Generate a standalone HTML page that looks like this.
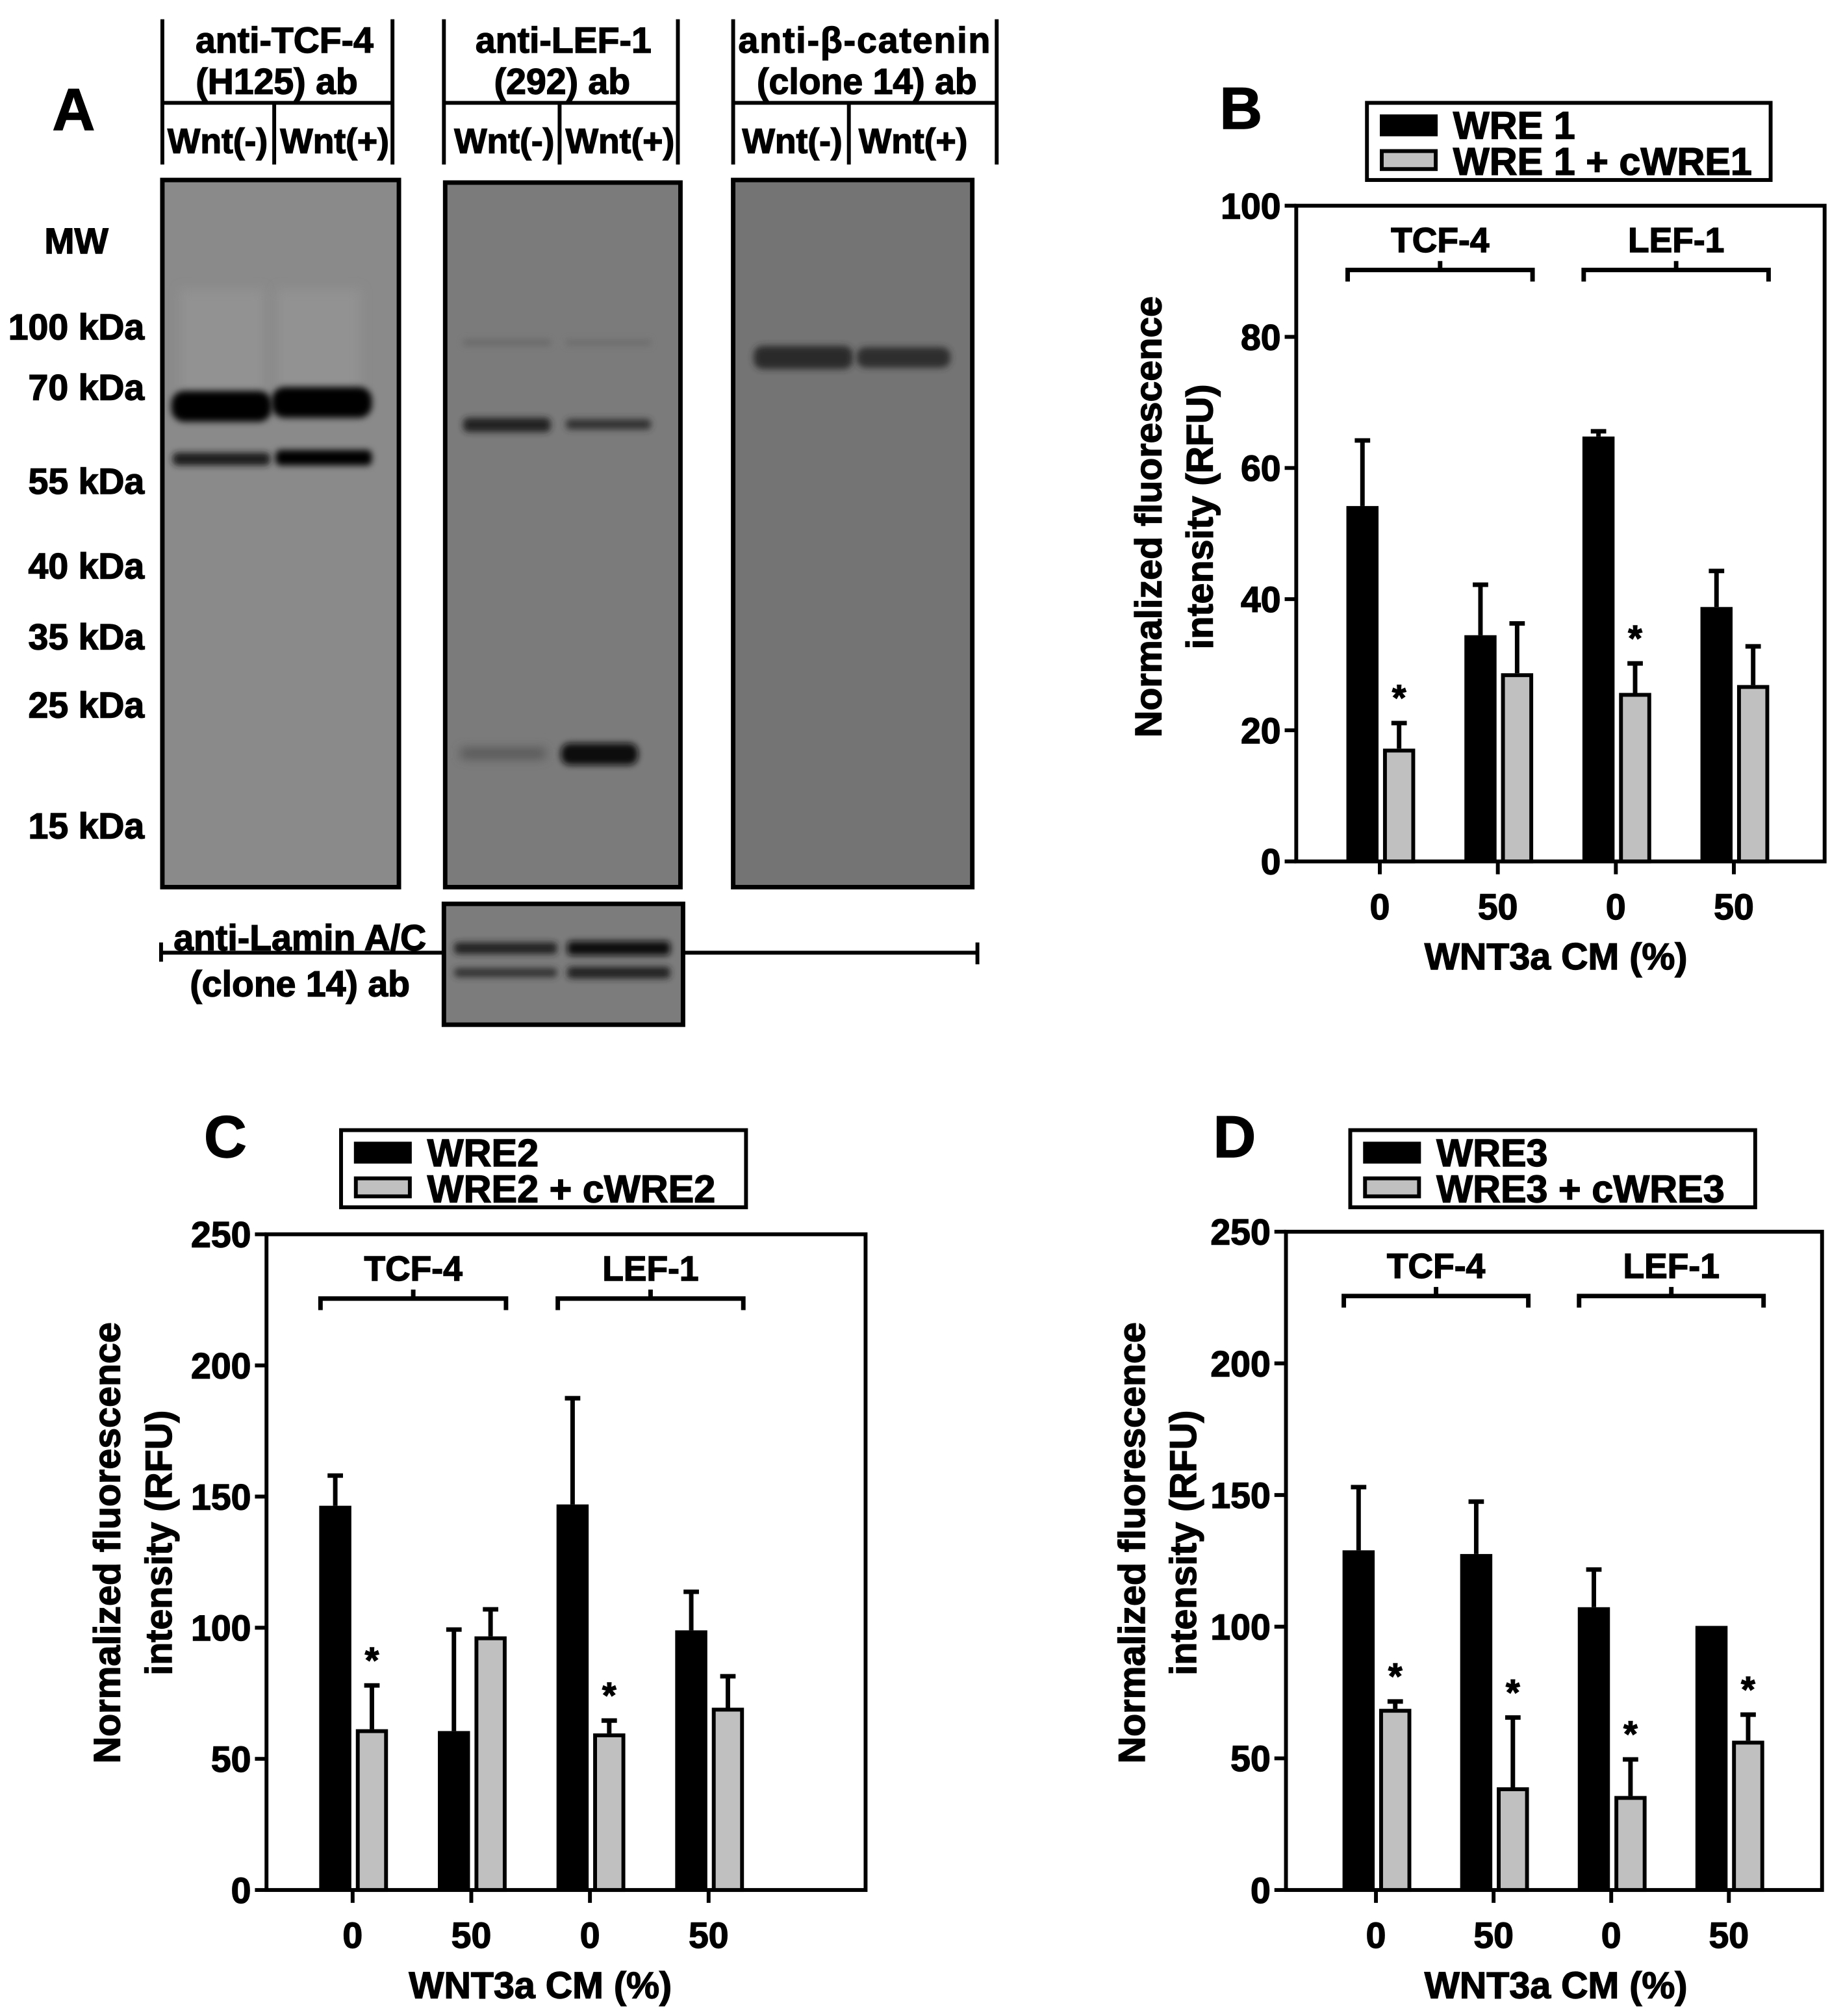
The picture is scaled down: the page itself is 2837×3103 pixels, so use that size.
<!DOCTYPE html>
<html><head><meta charset="utf-8">
<style>
html,body{margin:0;padding:0;background:#fff;}
svg{display:block;}
text{font-family:"Liberation Sans",Arial,sans-serif;font-weight:bold;fill:#000;stroke:#000;stroke-width:0.7px;}
</style></head>
<body>
<svg id="fig" width="2837" height="3103" viewBox="0 0 1433 1568" xmlns="http://www.w3.org/2000/svg">
<defs>
<filter id="blur" x="-20%" y="-300%" width="140%" height="700%"><feGaussianBlur stdDeviation="4"/></filter>
<filter id="blur2" x="-20%" y="-300%" width="140%" height="700%"><feGaussianBlur stdDeviation="2.5"/></filter>
</defs>
<rect width="1433" height="1568" fill="#fff"/>
<g id="panelA">
<text x="57" y="101" font-size="46" text-anchor="middle">A</text>
<g stroke="#000" stroke-width="3" fill="none">
<path d="M126 15V128M305 15V128M126 80H305M213 80V128"/>
<path d="M345 15V128M527 15V128M345 80H527M435 80V128"/>
<path d="M570 15V128M775 15V128M570 80H775M660 80V128"/>
</g>
<g font-size="28" text-anchor="middle">
<text x="221" y="41">anti-TCF-4</text>
<text x="215" y="73">(H125) ab</text>
<text x="438" y="41">anti-LEF-1</text>
<text x="437" y="73">(292) ab</text>
<text x="672" y="41" textLength="196">anti-β-catenin</text>
<text x="674" y="73">(clone 14) ab</text>
</g>
<g font-size="27" text-anchor="middle" style="stroke-width:0.3px">
<text x="169" y="119">Wnt(-)</text>
<text x="260" y="119">Wnt(+)</text>
<text x="392" y="119">Wnt(-)</text>
<text x="482" y="119">Wnt(+)</text>
<text x="616" y="119">Wnt(-)</text>
<text x="710" y="119">Wnt(+)</text>
</g>
<g font-size="28" text-anchor="end">
<text x="84" y="197">MW</text>
<text x="112" y="264">100 kDa</text>
<text x="112" y="311">70 kDa</text>
<text x="112" y="384">55 kDa</text>
<text x="112" y="450">40 kDa</text>
<text x="112" y="505">35 kDa</text>
<text x="112" y="558">25 kDa</text>
<text x="112" y="652">15 kDa</text>
</g>
<g>
<rect x="126" y="140" width="184" height="550" fill="#8a8a8a"/>
<rect x="140" y="225" width="65" height="85" fill="#929292" filter="url(#blur)"/>
<rect x="215" y="225" width="65" height="85" fill="#929292" filter="url(#blur)"/>
<rect x="133" y="304" width="78" height="24" rx="10" fill="#000" filter="url(#blur2)"/>
<rect x="211" y="301" width="78" height="24" rx="10" fill="#000" filter="url(#blur2)"/>
<rect x="134" y="352" width="76" height="10" rx="4" fill="#1a1a1a" filter="url(#blur2)"/>
<rect x="214" y="350" width="75" height="12" rx="4" fill="#000" filter="url(#blur2)"/>
<rect x="126" y="140" width="184" height="550" fill="none" stroke="#000" stroke-width="3.5"/>
</g>
<g>
<rect x="346" y="142" width="183" height="548" fill="#7b7b7b"/>
<rect x="360" y="264" width="68" height="5" fill="#6a6a6a" filter="url(#blur2)"/>
<rect x="440" y="264" width="66" height="5" fill="#6e6e6e" filter="url(#blur2)"/>
<rect x="360" y="325" width="68" height="11" rx="4" fill="#222" filter="url(#blur2)"/>
<rect x="440" y="326" width="66" height="8" rx="3" fill="#333" filter="url(#blur2)"/>
<rect x="358" y="582" width="66" height="8" fill="#555" filter="url(#blur)"/>
<rect x="436" y="578" width="60" height="17" rx="7" fill="#111" filter="url(#blur2)"/>
<rect x="346" y="142" width="183" height="548" fill="none" stroke="#000" stroke-width="3.5"/>
</g>
<g>
<rect x="570" y="140" width="186" height="550" fill="#747474"/>
<rect x="586" y="269" width="77" height="18" rx="7" fill="#2a2a2a" filter="url(#blur2)"/>
<rect x="666" y="270" width="73" height="16" rx="7" fill="#2e2e2e" filter="url(#blur2)"/>
<rect x="570" y="140" width="186" height="550" fill="none" stroke="#000" stroke-width="3.5"/>
</g>
<g>
<path d="M125 733V748M125 741H345M531 741H760M760 733V750" stroke="#000" stroke-width="3" fill="none"/>
<rect x="345" y="703" width="186" height="94" fill="#7c7c7c"/>
<rect x="353" y="733" width="80" height="9" rx="3" fill="#222" filter="url(#blur2)"/>
<rect x="441" y="732" width="80" height="11" rx="3" fill="#111" filter="url(#blur2)"/>
<rect x="353" y="753" width="80" height="7" rx="3" fill="#333" filter="url(#blur2)"/>
<rect x="441" y="752" width="80" height="9" rx="3" fill="#222" filter="url(#blur2)"/>
<rect x="345" y="703" width="186" height="94" fill="none" stroke="#000" stroke-width="3.5"/>
<text x="233" y="739" font-size="28" text-anchor="middle">anti-Lamin A/C</text>
<text x="233" y="775" font-size="28" text-anchor="middle">(clone 14) ab</text>
</g>
</g>
<g id="charts"></g>
</svg>
<script>
// shared categories
const categories = ["0", "50", "0", "50"];
const groupsLabels = ["TCF-4", "LEF-1"];
// Panel B data
const bBlack = [54.2, 34.5, 64.8, 38.8];
const bBlackErr = [64.2, 42.2, 65.6, 44.3];
const bGray = [17.2, 28.7, 25.7, 26.9];
const bGrayErr = [21.1, 36.3, 30.2, 32.8];
const bStars = [true, false, true, false];
const bTicks = [0, 20, 40, 60, 80, 100];
// Panel C data
const cBlack = [146.5, 60.6, 147, 99];
const cBlackErr = [158, 99.3, 187.5, 113.7];
const cGray = [61.3, 96.7, 59.7, 69.5];
const cGrayErr = [78, 107, 64.6, 81.5];
const cStars = [true, false, true, false];
const cTicks = [0, 50, 100, 150, 200, 250];
// Panel D data
const dBlack = [129, 127.6, 107.4, 100.3];
const dBlackErr = [153, 147.5, 121.7, 100.3];
const dGray = [68.8, 39, 35.7, 56.7];
const dGrayErr = [71.6, 65.5, 49.6, 66.6];
const dStars = [true, true, true, true];
const dTicks = [0, 50, 100, 150, 200, 250];

const NS = "http://www.w3.org/2000/svg";
const root = document.getElementById("charts");
function mk(tag, attrs, parent) {
  const e = document.createElementNS(NS, tag);
  for (const k in attrs) e.setAttribute(k, attrs[k]);
  parent.appendChild(e);
  return e;
}

function drawChart(L, black, blackErr, gray, grayErr, stars, ticks, legendNames) {
  const g = mk("g", {}, root);
  
  
  const ymax = ticks[ticks.length - 1];
  const y = v => L.bottom - (v / ymax) * (L.bottom - L.top);
  const xc = i => L.left + L.off + i * L.step;
  const bw = 25;
  const pl = mk("text", {x: L.lx, y: L.ly, "font-size": 46, "text-anchor": "middle"}, g);
  pl.textContent = L.letter;
  
  
  const lg = mk("g", {}, g);
  
  
  mk("rect", {x: L.legX, y: L.legY, width: L.legW, height: 60, fill: "#fff", stroke: "#000", "stroke-width": 3}, lg);
  const s1 = mk("rect", {x: L.legX + 10, y: L.legY + 9, width: 45, height: 17, fill: "#000"}, lg);
  
  
  const s2 = mk("rect", {x: L.legX + 11.5, y: L.legY + 37.5, width: 42, height: 14, fill: "#c0c0c0", stroke: "#000", "stroke-width": 3}, lg);
  
  
  const t1 = mk("text", {x: L.legX + 67, y: L.legY + 28, "font-size": 30}, lg);
  t1.textContent = legendNames[0];
  
  
  const t2 = mk("text", {x: L.legX + 67, y: L.legY + 56, "font-size": 30}, lg);
  t2.textContent = legendNames[1];
  
  
  const fr = mk("rect", {x: L.left, y: L.top, width: L.right - L.left, height: L.bottom - L.top, fill: "none", stroke: "#000", "stroke-width": 3}, g);
  
  
  ticks.forEach(t => {
    const yy = y(t);
    const tk = mk("line", {x1: L.left - 9, x2: L.left, y1: yy, y2: yy, stroke: "#000", "stroke-width": 3}, g);
    
    
    const tl = mk("text", {x: L.left - 12, y: yy + 10, "font-size": 28, "text-anchor": "end"}, g);
    tl.textContent = t;
    
    
  });
  const yt = mk("text", {transform: `translate(${L.ytx},${L.yty}) rotate(-90)`, "font-size": 29, "text-anchor": "middle"}, g);
  yt.textContent = "Normalized fluorescence";
  
  
  const yt2 = mk("text", {transform: `translate(${L.ytx + 40},${L.yty}) rotate(-90)`, "font-size": 29, "text-anchor": "middle"}, g);
  yt2.textContent = "intensity (RFU)";
  
  
  categories.forEach((c, i) => {
    const x = xc(i);
    const tk = mk("line", {x1: x, x2: x, y1: L.bottom, y2: L.bottom + 10, stroke: "#000", "stroke-width": 3}, g);
    
    
    const tl = mk("text", {x: x, y: L.bottom + 45, "font-size": 28, "text-anchor": "middle"}, g);
    tl.textContent = c;
    
    
  });
  const xt = mk("text", {x: L.xtx, y: L.bottom + 84, "font-size": 29, "text-anchor": "middle"}, g);
  xt.textContent = "WNT3a CM (%)";
  
  
  const by = L.top + 50;
  groupsLabels.forEach((lab, gi) => {
    const x1 = xc(gi * 2) - bw, x2 = xc(gi * 2 + 1) + 2 + bw, mx = (x1 + x2) / 2;
    const br = mk("path", {d: `M${x1} ${by + 9}V${by}H${x2}V${by + 9}M${mx} ${by}V${by - 7}`, stroke: "#000", "stroke-width": 3.5, fill: "none"}, g);
    
    
    const bt = mk("text", {x: mx, y: by - 14, "font-size": 27, "text-anchor": "middle"}, g);
    bt.textContent = lab;
    
    
  });
  categories.forEach((c, i) => {
    const x = xc(i);
    const bx = x - bw - 1, byt = y(black[i]);
    if (blackErr[i] > black[i]) {
      const e = mk("path", {d: `M${bx + bw / 2} ${byt}V${y(blackErr[i])}M${bx + bw / 2 - 6} ${y(blackErr[i])}H${bx + bw / 2 + 6}`, stroke: "#000", "stroke-width": 3.5, fill: "none"}, g);
      
      
    }
    const b = mk("rect", {x: bx, y: byt, width: bw, height: L.bottom - byt, fill: "#000"}, g);
    
    
    const gx = x + 2.5, gy = y(gray[i]);
    const e2 = mk("path", {d: `M${gx + bw / 2} ${gy}V${y(grayErr[i])}M${gx + bw / 2 - 6} ${y(grayErr[i])}H${gx + bw / 2 + 6}`, stroke: "#000", "stroke-width": 3.5, fill: "none"}, g);
    
    
    const gb = mk("rect", {x: gx + 1.5, y: gy + 1.5, width: bw - 3, height: L.bottom - gy - 1.5, fill: "#c0c0c0", stroke: "#000", "stroke-width": 3}, g);
    
    
    if (stars[i]) {
      const s = mk("text", {x: gx + bw / 2, y: y(grayErr[i]) - 10, "font-size": 28, "text-anchor": "middle"}, g);
      s.textContent = "*";
      
      
    }
  });
}

drawChart({name: "panel-b-wre1-chart", letter: "B", lx: 965, ly: 100, left: 1008, right: 1419, top: 160, bottom: 670, off: 65, step: 91.8,
  legX: 1063, legY: 80, legW: 314, ytx: 903, yty: 402, xtx: 1210}, bBlack, bBlackErr, bGray, bGrayErr, bStars, bTicks, ["WRE 1", "WRE 1 + cWRE1"]);
drawChart({name: "panel-c-wre2-chart", letter: "C", lx: 175, ly: 900, left: 207, right: 673, top: 960, bottom: 1470, off: 67, step: 92.3,
  legX: 265, legY: 879, legW: 315, ytx: 93, yty: 1200, xtx: 420}, cBlack, cBlackErr, cGray, cGrayErr, cStars, cTicks, ["WRE2", "WRE2 + cWRE2"]);
drawChart({name: "panel-d-wre3-chart", letter: "D", lx: 960, ly: 900, left: 1000, right: 1417, top: 958, bottom: 1470, off: 70, step: 91.5,
  legX: 1050, legY: 879, legW: 315, ytx: 890, yty: 1200, xtx: 1210}, dBlack, dBlackErr, dGray, dGrayErr, dStars, dTicks, ["WRE3", "WRE3 + cWRE3"]);
</script>
</body></html>
